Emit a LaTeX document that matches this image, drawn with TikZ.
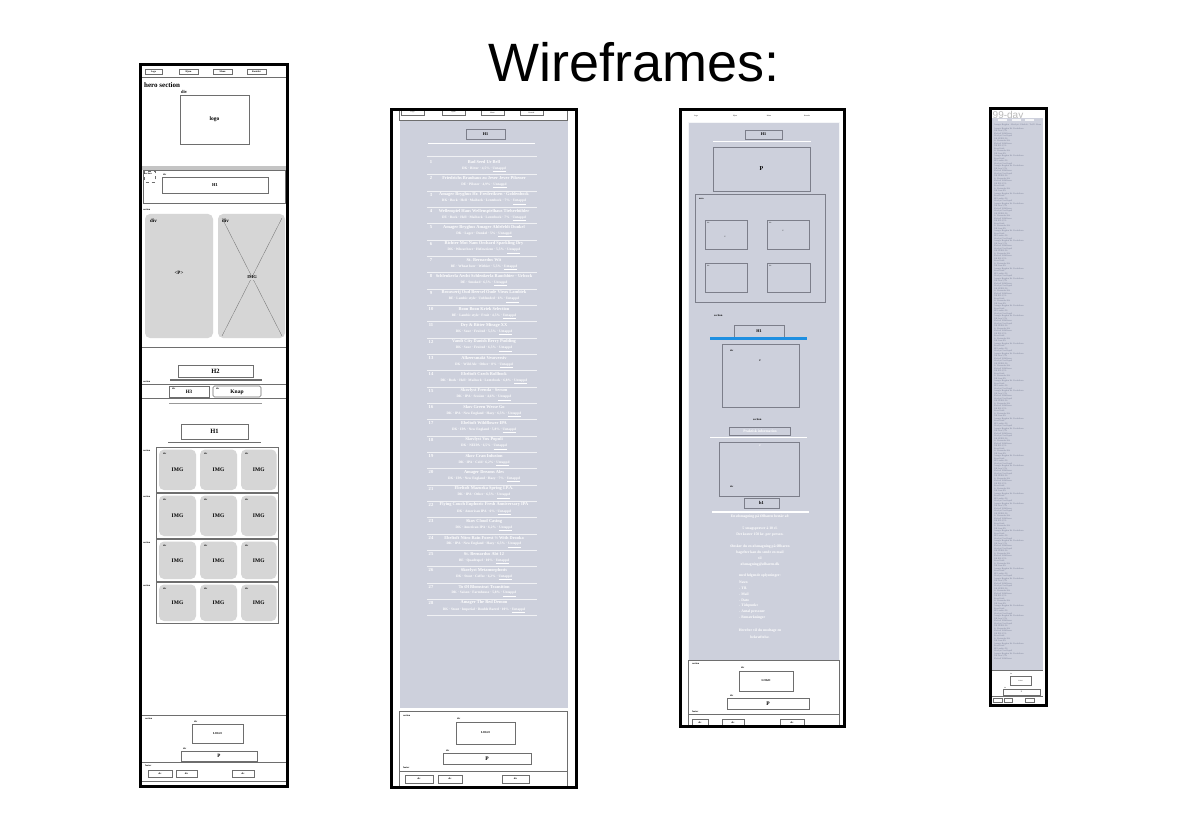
\documentclass[tikz,border=0pt]{standalone}
\usepackage{fontspec}
\setmainfont{Liberation Serif}
\newfontfamily\titlefont{Liberation Sans}
\definecolor{panel}{HTML}{CDD0DC}
\definecolor{cardgray}{HTML}{D6D6D6}
\definecolor{wiregray}{HTML}{6E6E6E}
\definecolor{panelwire}{HTML}{7C7E8A}
\definecolor{bandgray}{HTML}{C4C4C4}
\definecolor{linkblue}{HTML}{1E8FE1}
\definecolor{microtext}{HTML}{7E839A}
\definecolor{paneltext}{HTML}{FFFFFF}
\newcommand\microtxt[1]{\ifcase#1 Amager Bryghus Hr. Frederiksen\or DK IPA 6,5\%\or Skovlyst Vox Populi\or DK Stout 8\%\or Ebeltoft Wildflower\or BE Lambic 6\%\or St. Bernardus Wit\or DK Sour 5,5\%\or Boon Kriek\or DK NEIPA 6\%\fi}
\tikzset{
  % glyph colour set directly as the fill colour inside the node
  ink/.style={text=#1, execute at begin node={\pgfsetfillcolor{#1}}},
  frame/.style={draw=black, line width=3pt},
  wire/.style={draw=wiregray, line width=0.55pt},
  pwire/.style={draw=panelwire, line width=0.6pt},
  tiny/.style={font=\bfseries\fontsize{2.4}{2.4}\selectfont, inner sep=0pt},
  tag/.style={font=\bfseries\fontsize{3.6}{3.6}\selectfont, inner sep=0pt, anchor=west},
  lab/.style={font=\bfseries\fontsize{5.5}{5.5}\selectfont, inner sep=0pt},
  card/.style={fill=cardgray, rounded corners=5pt},
  whiterule/.style={draw=white, line width=1.4pt},
  itemsep/.style={draw=white!70!panel, line width=0.4pt},
  itemnum/.style={font=\bfseries\fontsize{4.6}{4.6}\selectfont, inner sep=0pt, ink=paneltext},
  bname/.style={font=\bfseries\fontsize{4.4}{4.4}\selectfont, inner sep=0pt, ink=paneltext},
  bsub/.style={font=\bfseries\fontsize{3.5}{3.5}\selectfont, inner sep=0pt, ink=paneltext},
  para/.style={font=\bfseries\fontsize{3.7}{3.7}\selectfont, inner sep=0pt, ink=paneltext},
  micro/.style={font=\fontsize{2.2}{2.2}\selectfont, inner sep=0pt, anchor=west, ink=microtext},
}
\begin{document}
\begin{tikzpicture}[x=1pt,y=-1pt]
\useasboundingbox (0,0) rectangle (1200,813);
\fill[white] (0,0) rectangle (1200,813);

\node[font=\titlefont\fontsize{54}{54}\selectfont, anchor=base, inner sep=0pt] (title) at (634,82) {Wireframes:};

% ================= wireframe 1: front page =================
\fill[white] (140.5,64.5) rectangle (287.5,786.5);
\draw[wire] (142,77) -- (286,77);
\foreach \x/\w/\t [count=\i] in {145/17/Logo,179/19/Hjem,213/19/Menu,247/19/Kontakt}{
  \draw[wire] (\x,69) rectangle ++(\w,5);
  \node[tiny] (f1nav\i) at (\x+\w/2,71.5) {\t};
}
% hero
\node[tag, font=\bfseries\fontsize{7}{7}\selectfont] (f1hero) at (144,85) {hero section};
\node[tag, font=\bfseries\fontsize{4.5}{4.5}\selectfont] (f1herodiv) at (181,92) {div};
\draw[wire] (180,95) rectangle (249,144);
\node[lab] (f1logo) at (214.5,119.5) {logo};
% heading strip
\fill[bandgray] (142,166.5) rectangle (286,170);
\draw[wire] (143,170) rectangle (285,203);
\draw[wire, dashed, line width=0.35pt] (144,171.5) rectangle (155,182);
\node[tiny, anchor=west] (f1sec0) at (144.5,173.5) {section};
\node[tiny, anchor=west] (f1h1div) at (163,175) {div};
\draw[wire] (162,177) rectangle (268,193);
\node[lab, font=\bfseries\fontsize{4.5}{4.5}\selectfont] (f1h1a) at (215,185) {H1};
% text + image
\node[tiny, anchor=west] (f1sec1) at (143,210) {section};
\fill[card] (145,214) rectangle (213,338);
\fill[card] (218,214) rectangle (285,338);
\node[tag, font=\bfseries\fontsize{5}{5}\selectfont] (f1ldiv) at (150,221) {div};
\node[tag, font=\bfseries\fontsize{5}{5}\selectfont] (f1rdiv) at (222,221) {div};
\node[lab, font=\bfseries\fontsize{5}{5}\selectfont] (f1p) at (179,273) {<P>};
\draw[wire, line width=0.3pt] (222,218) -- (282,336);
\draw[wire, line width=0.3pt] (282,218) -- (222,336);
\node[lab, font=\bfseries\fontsize{4.5}{4.5}\selectfont, fill=cardgray, inner sep=0.8pt] (f1img) at (252,277.5) {IMG};
\draw[wire] (142,347) -- (286,347);
% H2 + buttons
\draw[wire] (178,365) rectangle (253,377);
\node[lab, font=\bfseries\fontsize{6.5}{6.5}\selectfont] (f1h2) at (215.5,371) {H2};
\draw[draw=wiregray, line width=1.3pt] (170,380) -- (262,380);
\node[tiny, anchor=west] (f1sec2) at (143,382) {section};
\draw[wire] (142,384) -- (286,384);
\draw[wire] (142,398) -- (286,398);
\draw[wire] (169,386) rectangle (209,397);
\draw[wire, rounded corners=1.5pt] (213,386) rectangle (261,397);
\node[tiny, anchor=west] (f1h3div) at (172,388.5) {div};
\node[tiny, anchor=west] (f1kdiv) at (216,388.5) {div};
\node[lab, font=\bfseries\fontsize{5}{5}\selectfont] (f1h3) at (189,391.8) {H3};
\node[lab, font=\bfseries\fontsize{5.5}{5.5}\selectfont] (f1knap) at (237,391.8) {Knap};
\draw[draw=wiregray!70, line width=1pt] (169,403) -- (262,403);
% H1 + image grid
\draw[wire] (181,424) rectangle (248,439);
\node[lab, font=\bfseries\fontsize{6.5}{6.5}\selectfont] (f1h1b) at (214.5,431.5) {H1};
\draw[draw=wiregray, line width=1.3pt] (168,442.5) -- (261,442.5);
\foreach \ya/\yb [count=\r] in {447/492,493/538,539/581,582/623}{
  \draw[wire] (156,\ya) rectangle (278,\yb);
  \node[tiny, anchor=west] (f1gs\r) at (143,\ya+3.5) {section};
  \foreach \xa/\xb [count=\c] in {159/196,200/237,241/276.5}{
    \fill[card] (\xa,\ya+2.5) rectangle (\xb,\yb-2);
    \node[tiny, anchor=west] (f1gd\r\c) at (\xa+4,\ya+6.5) {div};
    \node[lab] (f1gi\r\c) at ({(\xa+\xb)/2},{(\ya+\yb)/2+0.5}) {IMG};
  }
}
% footer
\draw[wire] (142,715) -- (286,715);
\node[tiny, anchor=west] (f1sec3) at (145,719) {section};
\node[tiny, anchor=west] (f1ldiv2) at (194,722) {div};
\draw[wire] (192,724) rectangle (243,743);
\node[tiny, font=\bfseries\fontsize{3}{3}\selectfont] (f1logo2) at (217.5,733.5) {LOGO};
\node[tiny, anchor=west] (f1pdiv) at (183,749) {div};
\draw[wire] (181,751) rectangle (257,761);
\node[lab, font=\bfseries\fontsize{5}{5}\selectfont] (f1pfoot) at (219,756) {P};
\draw[wire] (142,762.5) -- (286,762.5);
\node[tiny, anchor=west] (f1foot) at (145,765.5) {footer};
\foreach \xa/\xb [count=\i] in {148/172,176/197,232/254}{
  \draw[wire] (\xa,770) rectangle (\xb,777);
  \node[tiny] (f1btn\i) at ({(\xa+\xb)/2},773.5) {div};
}
\draw[wire] (142,781) -- (286,781);
\draw[frame] (140.5,64.5) rectangle (287.5,786.5);

% ================= wireframe 2: beer list =================
\fill[white] (391.5,109.5) rectangle (576,787);
\fill[panel] (399.5,120) rectangle (567.5,708);
\draw[wire, line width=0.35pt] (399.5,109.5) -- (399.5,120) -- (567.5,120) -- (567.5,109.5);
\foreach \x/\t [count=\i] in {401/Logo,442/Hjem,481/Menu,520/Kontakt}{
  \draw[wire] (\x,109.5) rectangle ++(23,5.5);
  \node[tiny, font=\fontsize{1.8}{1.8}\selectfont] (f2nav\i) at (\x+11.5,112.5) {\t};
}
\draw[pwire] (466,129) rectangle (505,139);
\node[lab, font=\bfseries\fontsize{4.2}{4.2}\selectfont] (f2h1) at (485.5,134) {H1};
\draw[whiterule] (428,143.5) -- (535,143.5);
\draw[itemsep] (427,156.5) -- (537,156.5);
\foreach \nm/\sb [count=\i] in {
  Bad Seed Ur Bell/{DK · Bitter · 4,5\%},
  Friedrichs Brauhaus zu Jever Jever Pilsener/{DE · Pilsner · 4,9\%},
  Amager Bryghus Hr. Frederiksen · Goldenbock/{DK · Bock · Hell · Maibock · Lentebock · 7\%},
  Wellenspiel Haus Wellenspielhaus Tiefseebühler/{DE · Bock · Hell · Maibock · Lentebock · 7\%},
  Amager Bryghus Amager Ahlefeldt Dunkel/{DK · Lager · Dunkel · 5\%},
  Richter Mot Nam Orchard Sparkling Dry/{DK · Wheat beer · Hefeweizen · 5,5\%},
  St. Bernardus Wit/{BE · Wheat beer · Witbier · 5,5\%},
  Schlenkerla Aecht Schlenkerla Rauchbier · Urbock/{DE · Smoked · 6,5\%},
  Brouwerij Oud Beersel Oude Vieux Lambiek/{BE · Lambic style · Unblended · 6\%},
  Boon Boon Kriek Selection/{BE · Lambic style · Fruit · 4,5\%},
  Dry \& Bitter Mirage XX/{DK · Sour · Fruited · 5,5\%},
  Vandt City Danish Berry Pudding/{DK · Sour · Fruited · 6,5\%},
  Alkeersmakt Vesoversiv/{DK · Wild Ale · Other · 8\%},
  Ebeltoft Czech Rollbock/{DK · Bock · Hell · Maibock · Lentebock · 6,8\%},
  Skovlyst Frenda · Serum/{DK · IPA · Session · 4,6\%},
  Skov Green Wesse Go/{DK · IPA · New England · Hazy · 6,5\%},
  Ebeltoft Wildflower IPA/{DK · IPA · New England · 5,8\%},
  Skovlyst Vox Populi/{DK · NEIPA · 6,5\%},
  Skov Cran Infusion/{DK · IPA · Cold · 6,2\%},
  Amager Dreams Ales/{DK · IPA · New England · Hazy · 7\%},
  Ebeltoft Mazurka Spring I.P.A./{DK · IPA · Other · 6,5\%},
  Flying Couch Euphoric Fresh Anniversary IPA/{DK · American IPA · 6\%},
  Skov Cloud Casing/{DK · American IPA · 6,2\%},
  Ebeltoft Nitro Rain Forest ½ With Drooka/{DK · IPA · New England · Hazy · 6,5\%},
  St. Bernardus Abt 12/{BE · Quadrupel · 10\%},
  Skovlyst Metamorphosis/{DK · Stout · Coffee · 6,2\%},
  To Øl Blomstrat Transition/{DK · Saison · Farmhouse · 5,8\%},
  Amager The Red Demon/{DK · Stout · Imperial · Double Barrel · 10\%}}{
  \pgfmathsetmacro\yy{162+(\i-1)*16.33}
  \node[itemnum] (f2num\i) at (431,\yy) {\i};
  \node[bname] (f2name\i) at (484,\yy) {\nm};
  \node[bsub] (f2sub\i) at (484,\yy+7.3) {\sb\ · \underline{Untappd}};
  \draw[itemsep] (427,\yy+12.6) -- (537,\yy+12.6);
}
% footer
\draw[wire] (399.5,711.5) rectangle (567,786);
\node[tiny, anchor=west] (f2sec) at (403,716) {section};
\node[tiny, anchor=west] (f2ldiv) at (457,719) {div};
\draw[wire] (456,722) rectangle (515,744);
\node[tiny, font=\bfseries\fontsize{3}{3}\selectfont] (f2logo) at (485.5,733) {LOGO};
\node[tiny, anchor=west] (f2pdiv) at (446,750.5) {div};
\draw[wire] (443,753) rectangle (531,764);
\node[lab, font=\bfseries\fontsize{5.5}{5.5}\selectfont] (f2p) at (487,758.5) {P};
\node[tiny, anchor=west] (f2foot) at (403,768) {footer};
\draw[wire] (399.5,771) -- (567,771);
\foreach \xa/\xb [count=\i] in {405/433,438/462,502/529}{
  \draw[wire] (\xa,775) rectangle (\xb,783);
  \node[tiny] (f2btn\i) at ({(\xa+\xb)/2},779) {div};
}
\draw[frame] (391.5,109.5) rectangle (576,787);

% ================= wireframe 3: tasting page =================
\fill[white] (680.5,109.5) rectangle (844,726);
\fill[panel] (688,122) rectangle (839,660);
\draw[draw=white!80!panel, line width=0.5pt] (688,122) rectangle (839,660);
\foreach \x/\t [count=\i] in {696/Logo,735/Hjem,769/Menu,807/Kontakt}{
  \node[tiny, font=\fontsize{1.8}{1.8}\selectfont] (f3nav\i) at (\x,116) {\t};
}
\draw[pwire] (745,130) rectangle (782,139);
\node[lab, font=\bfseries\fontsize{4.2}{4.2}\selectfont] (f3h1a) at (763.5,134.5) {H1};
\draw[whiterule] (713,141.5) -- (811,141.5);
\draw[pwire] (713,147) rectangle (810,191);
\node[lab, font=\bfseries\fontsize{6}{6}\selectfont] (f3p1) at (761.5,169) {P};
\draw[pwire] (695,194.5) rectangle (825,302);
\node[tiny, anchor=west] (f3area) at (699,199) {area};
\draw[pwire] (705.5,220) rectangle (747,249);
\draw[pwire] (767,220) rectangle (809,249);
\draw[pwire] (705.5,263) rectangle (747,292);
\draw[pwire] (767,263) rectangle (810,292);
\node[tiny, anchor=west, font=\fontsize{1.8}{1.8}\selectfont] (f3d1) at (707,222.5) {div};
\node[tiny, font=\fontsize{1.8}{1.8}\selectfont] (f3d1p) at (725,237) {P};
\node[tiny, anchor=west, font=\fontsize{1.8}{1.8}\selectfont] (f3d2) at (769,222.5) {div};
\node[tiny, font=\fontsize{1.8}{1.8}\selectfont] (f3d2p) at (783,231) {P};
\node[tiny, anchor=west, font=\fontsize{1.8}{1.8}\selectfont] (f3d3) at (707,266) {div};
\node[tiny, anchor=west, font=\fontsize{1.8}{1.8}\selectfont] (f3d4) at (769,266) {div};
% linked section
\node[tiny, anchor=west, font=\bfseries\fontsize{2.8}{2.8}\selectfont] (f3sec1) at (714,316) {section};
\draw[pwire] (734,325) rectangle (784,337);
\node[lab, font=\bfseries\fontsize{4.2}{4.2}\selectfont] (f3h1b) at (759,331) {H1};
\draw[draw=linkblue, line width=3pt] (710,338.8) -- (807,338.8);
\draw[pwire] (722,344) rectangle (799,407);
\node[tiny, anchor=west] (f3div1) at (730,351) {div};
\node[tiny] (f3p2) at (760,361) {P};
% practical information
\node[tiny, anchor=west, font=\bfseries\fontsize{2.8}{2.8}\selectfont] (f3sec2) at (753,420) {section};
\draw[pwire] (729,427) rectangle (790,435);
\node[tiny, font=\bfseries\fontsize{3.7}{3.7}\selectfont, ink=paneltext] (f3prak) at (760,431) {Praktisk information};
\draw[whiterule] (710,437.5) -- (807,437.5);
\draw[pwire] (719,442) rectangle (799,496);
\node[tiny, ink=paneltext] (f3p3) at (760,446) {P};
\node[tiny, anchor=west] (f3div2) at (730,487) {div};
\draw[pwire] (744,498) rectangle (779,508);
\node[lab, font=\bfseries\fontsize{4.5}{4.5}\selectfont] (f3h1c) at (761.5,503) {h1};
\draw[whiterule] (712,512) -- (809,512);
\foreach \y/\t [count=\i] in {
  517/En ølsmagning på Ølbaren består af:,
  529/5 smagsprøver à 10 cl.,
  535/Det koster 150 kr. per person.,
  547/Ønsker du en ølsmagning på Ølbaren,
  553/bagefter kan du sende en mail,
  558.5/til,
  564.5/ølsmagning@ølbaren.dk,
  575.5/med følgende oplysninger:,
  631/Herefter vil du modtage en,
  637/bekræftelse.}{
  \node[para] (f3para\i) at (760,\y) {\t};
}
\foreach \y/\t [count=\i] in {582/Navn,588/- Tlf.,594/- Mail,600/- Dato,606/- Tidspunkt,612/- Antal personer,618/- Bemærkninger/ønsker}{
  \node[para, anchor=west] (f3list\i) at (739,\y) {\t};
}
% footer
\draw[wire] (688,660) rectangle (839,725);
\node[tiny, anchor=west] (f3sec3) at (692,664) {section};
\node[tiny, anchor=west] (f3ldiv) at (741,668) {div};
\draw[wire] (739,671) rectangle (793,691);
\node[tiny, font=\bfseries\fontsize{3}{3}\selectfont] (f3logo) at (766,681) {LOGO};
\node[tiny, anchor=west] (f3pdiv) at (730,696) {div};
\draw[wire] (727,698) rectangle (809,709);
\node[lab, font=\bfseries\fontsize{5.5}{5.5}\selectfont] (f3pf) at (768,703.5) {P};
\node[tiny, anchor=west] (f3foot) at (692,712) {footer};
\draw[wire] (688,714.5) -- (839,714.5);
\foreach \xa/\xb [count=\i] in {692/708,722/744,780/804}{
  \draw[wire] (\xa,719) rectangle (\xb,727);
  \node[tiny] (f3btn\i) at ({(\xa+\xb)/2},722.5) {div};
}
\draw[frame] (680.5,109.5) rectangle (844,726);

% ================= wireframe 4: full menu (long page) =================
\fill[white] (990.5,108.5) rectangle (1046,705);
\fill[panel] (992,118) rectangle (1043,670);
\begin{scope}
  \clip (992,110) rectangle (1043,117.5);
  \node[font=\titlefont\fontsize{10}{10}\selectfont, ink=gray!55, anchor=base west, inner sep=0pt] (f4head) at (992.5,119) {99-day};
\end{scope}
\foreach \x [count=\i] in {998,1012,1025}{
  \fill[white!80!panel] (\x,119) rectangle ++(9,2.5);
}
\node[micro] (f4top) at (994,125) {Amager Bryghus · Skovlyst · Ebeltoft · To Øl · Boon};
\foreach \i in {0,...,212}{
  \pgfmathsetmacro\yy{128.5+2.5*\i}
  \pgfmathtruncatemacro\k{mod(\i*7+\i/3,10)}
  \node[micro] (f4t\i) at (994,\yy) {\microtxt{\k}};
}
% footer
\draw[wire, line width=0.4pt] (992,670) -- (1043,670);
\node[tiny, font=\fontsize{1.6}{1.6}\selectfont, anchor=west] (f4ldiv) at (1010,674) {div};
\draw[wire, line width=0.4pt] (1010,676) rectangle (1031,685);
\node[tiny, font=\fontsize{1.6}{1.6}\selectfont] (f4logo) at (1020.5,680.5) {LOGO};
\node[tiny, font=\fontsize{1.6}{1.6}\selectfont, anchor=west] (f4pdiv) at (1004,687.5) {div};
\draw[wire, line width=0.4pt] (1003,689) rectangle (1040,695);
\node[tiny, font=\fontsize{2}{2}\selectfont] (f4p) at (1021.5,692) {P};
\draw[wire, line width=0.3pt] (992,696.5) -- (1043,696.5);
\foreach \xa/\xb [count=\i] in {993/1002,1004/1012,1025/1034}{
  \draw[wire, line width=0.4pt] (\xa,698) rectangle (\xb,702);
}
\draw[frame] (990.5,108.5) rectangle (1046,705);
\end{tikzpicture}
\end{document}
